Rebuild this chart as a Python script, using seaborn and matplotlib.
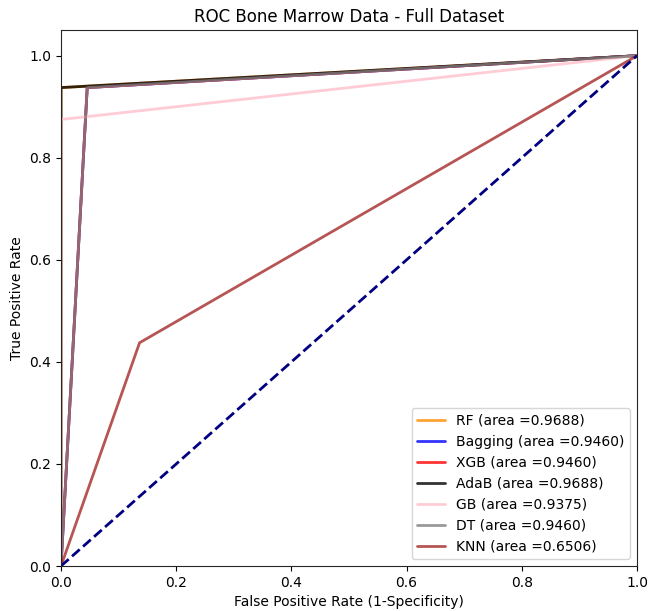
import numpy as np
import pandas as pd
import seaborn as sns
import matplotlib
matplotlib.use("Agg")
import matplotlib.pyplot as plt

# ROC curve points
models = ["RF", "Bagging", "XGB", "AdaB", "GB", "DT", "KNN"]
aucs = [0.9688, 0.9460, 0.9460, 0.9688, 0.9375, 0.9460, 0.6506]
colors = ["darkorange", "blue", "red", "black", "pink", "gray", "brown"]
fpr_values = [
    [0.0, 0.0, 1.0],
    [0.0, 0.0455, 1.0],
    [0.0, 0.0455, 1.0],
    [0.0, 0.0, 1.0],
    [0.0, 0.0, 1.0],
    [0.0, 0.0455, 1.0],
    [0.0, 0.1364, 1.0],
]
tpr_values = [
    [0.0, 0.9375, 1.0],
    [0.0, 0.9375, 1.0],
    [0.0, 0.9375, 1.0],
    [0.0, 0.9375, 1.0],
    [0.0, 0.875, 1.0],
    [0.0, 0.9375, 1.0],
    [0.0, 0.4375, 1.0],
]


def plot_roc():
    sns.set_style("ticks")
    plt.rcParams['font.family'] = ['DejaVu Sans']
    plt.rcParams['text.color'] = 'black'
    plt.rcParams['axes.labelcolor'] = 'black'
    plt.rcParams['xtick.color'] = 'black'
    plt.rcParams['ytick.color'] = 'black'
    fig = plt.figure(figsize=(6.56, 6.11), dpi=100)
    ax = fig.add_axes([0.093, 0.0736, 0.878, 0.877])
    for name, auc, col, fpr, tpr in zip(models, aucs, colors, fpr_values, tpr_values):
        df = pd.DataFrame({"fpr": fpr, "tpr": tpr})
        sns.lineplot(data=df, x="fpr", y="tpr", sort=False, estimator=None,
                     color=col, lw=2, alpha=0.8, ax=ax,
                     label="%s (area =%0.4f)" % (name, auc))
    ax.plot([0, 1], [0, 1], color="navy", lw=2, linestyle="--")
    ax.set_xlim(0.0, 1.0)
    ax.set_ylim(0.0, 1.05)
    ax.set_title("ROC Bone Marrow Data - Full Dataset")
    ax.set_xlabel("False Positive Rate (1-Specificity)")
    ax.set_ylabel("True Positive Rate")
    ax.legend(loc="lower right")
    fig.savefig("out.png", dpi=100)


if __name__ == "__main__":
    plot_roc()
